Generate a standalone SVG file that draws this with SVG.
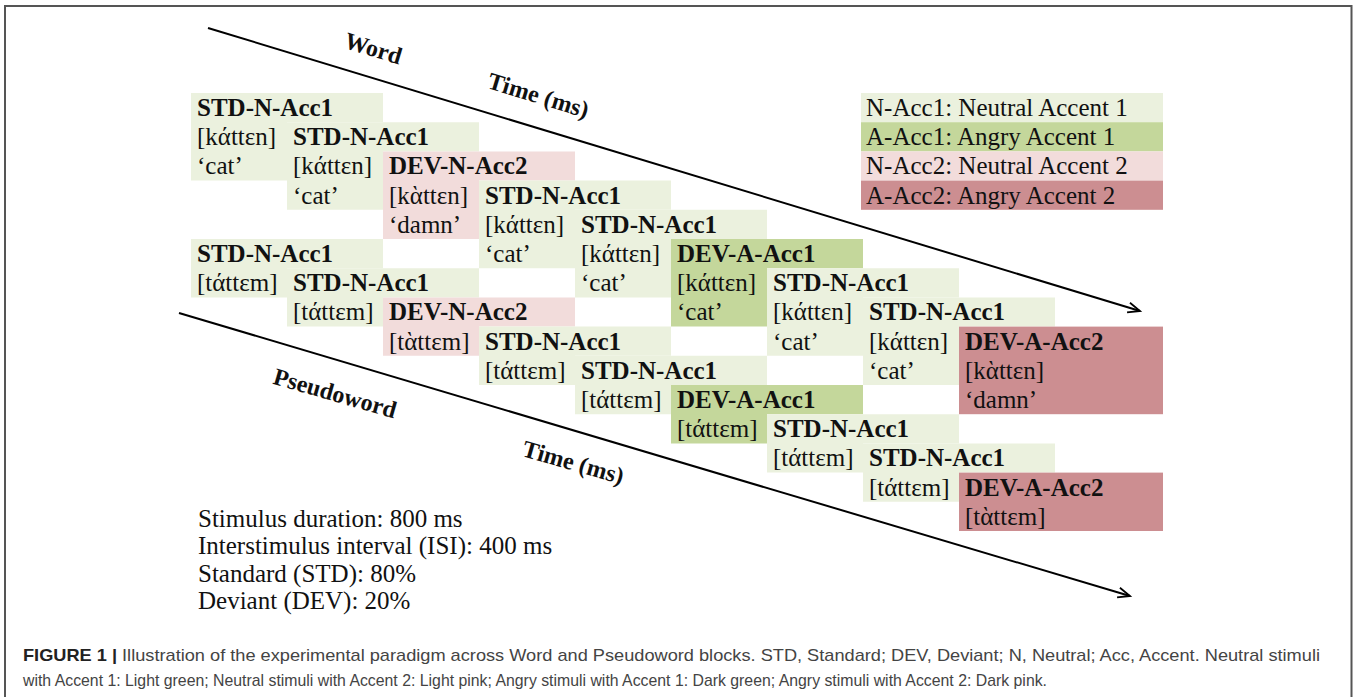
<svg xmlns="http://www.w3.org/2000/svg" width="1357" height="697" viewBox="0 0 1357 697">
<style>
.ng{fill:#ebf1de}.ag{fill:#c4d79b}.np{fill:#f2dcdb}.ap{fill:#cc8e91}
.b{font-family:"Liberation Serif","DejaVu Serif",serif;font-size:25px;font-weight:bold;fill:#111}
.r{font-family:"Liberation Serif","DejaVu Serif",serif;font-size:25px;fill:#111}
.lbl{font-family:"Liberation Serif","DejaVu Serif",serif;font-size:24px;font-weight:bold;fill:#111}
.ln{stroke:#000;stroke-width:2;fill:none}
.cap{font-family:"Liberation Sans",Arial,sans-serif;font-size:17px;fill:#444}
.capb{font-weight:bold;fill:#222}
</style>
<defs>
<marker id="arr" markerUnits="userSpaceOnUse" markerWidth="16" markerHeight="14" refX="13" refY="6" orient="auto">
<path d="M1,1 L13,6 L1,11" fill="none" stroke="#000" stroke-width="1.8"/>
</marker>
</defs>
<rect width="1357" height="697" fill="#fff"/>
<path d="M5,697 V6 H1351.5 V697" fill="none" stroke="#555" stroke-width="2"/>

<g id="connectors">
<line class="ln" x1="208" y1="28" x2="1140" y2="311" marker-end="url(#arr)"/>
<line class="ln" x1="179" y1="313" x2="1130" y2="596" marker-end="url(#arr)"/>
</g>

<g id="axis-labels">
<text class="lbl" text-anchor="middle" transform="translate(371,56) rotate(17)">Word</text>
<text class="lbl" text-anchor="middle" transform="translate(536,103) rotate(17)">Time (ms)</text>
<text class="lbl" text-anchor="middle" transform="translate(333,401) rotate(16)">Pseudoword</text>
<text class="lbl" text-anchor="middle" transform="translate(571,470) rotate(16)">Time (ms)</text>
</g>

<g id="word-1"><path class="ng" d="M191,93 h192 v29.2 h-96 v58.4 h-96 z"/><text class="b" x="197" y="116">STD-N-Acc1</text><text class="r" x="197" y="145.2">[kάttɛn]</text><text class="r" x="197" y="174.4">‘cat’</text></g>
<g id="word-2"><path class="ng" d="M287,122.2 h192 v29.2 h-96 v58.4 h-96 z"/><text class="b" x="293" y="145.2">STD-N-Acc1</text><text class="r" x="293" y="174.4">[kάttɛn]</text><text class="r" x="293" y="203.6">‘cat’</text></g>
<g id="word-3"><path class="np" d="M383,151.4 h192 v29.2 h-96 v58.4 h-96 z"/><text class="b" x="389" y="174.4">DEV-N-Acc2</text><text class="r" x="389" y="203.6">[kὰttɛn]</text><text class="r" x="389" y="232.8">‘damn’</text></g>
<g id="word-4"><path class="ng" d="M479,180.6 h192 v29.2 h-96 v58.4 h-96 z"/><text class="b" x="485" y="203.6">STD-N-Acc1</text><text class="r" x="485" y="232.8">[kάttɛn]</text><text class="r" x="485" y="262">‘cat’</text></g>
<g id="word-5"><path class="ng" d="M575,209.8 h192 v29.2 h-96 v58.4 h-96 z"/><text class="b" x="581" y="232.8">STD-N-Acc1</text><text class="r" x="581" y="262">[kάttɛn]</text><text class="r" x="581" y="291.2">‘cat’</text></g>
<g id="word-6"><path class="ag" d="M671,239 h192 v29.2 h-96 v58.4 h-96 z"/><text class="b" x="677" y="262">DEV-A-Acc1</text><text class="r" x="677" y="291.2">[kάttɛn]</text><text class="r" x="677" y="320.4">‘cat’</text></g>
<g id="word-7"><path class="ng" d="M767,268.2 h192 v29.2 h-96 v58.4 h-96 z"/><text class="b" x="773" y="291.2">STD-N-Acc1</text><text class="r" x="773" y="320.4">[kάttɛn]</text><text class="r" x="773" y="349.6">‘cat’</text></g>
<g id="word-8"><path class="ng" d="M863,297.4 h192 v29.2 h-96 v58.4 h-96 z"/><text class="b" x="869" y="320.4">STD-N-Acc1</text><text class="r" x="869" y="349.6">[kάttɛn]</text><text class="r" x="869" y="378.8">‘cat’</text></g>
<g id="word-9"><rect class="ap" x="959" y="326.6" width="204" height="87.6"/><text class="b" x="965" y="349.6">DEV-A-Acc2</text><text class="r" x="965" y="378.8">[kὰttɛn]</text><text class="r" x="965" y="408">‘damn’</text></g>

<g id="pseudo-1"><path class="ng" d="M191,239 h192 v29.2 h-96 v29.2 h-96 z"/><text class="b" x="197" y="262">STD-N-Acc1</text><text class="r" x="197" y="291.2">[tάttɛm]</text></g>
<g id="pseudo-2"><path class="ng" d="M287,268.2 h192 v29.2 h-96 v29.2 h-96 z"/><text class="b" x="293" y="291.2">STD-N-Acc1</text><text class="r" x="293" y="320.4">[tάttɛm]</text></g>
<g id="pseudo-3"><path class="np" d="M383,297.4 h192 v29.2 h-96 v29.2 h-96 z"/><text class="b" x="389" y="320.4">DEV-N-Acc2</text><text class="r" x="389" y="349.6">[tὰttɛm]</text></g>
<g id="pseudo-4"><path class="ng" d="M479,326.6 h192 v29.2 h-96 v29.2 h-96 z"/><text class="b" x="485" y="349.6">STD-N-Acc1</text><text class="r" x="485" y="378.8">[tάttɛm]</text></g>
<g id="pseudo-5"><path class="ng" d="M575,355.8 h192 v29.2 h-96 v29.2 h-96 z"/><text class="b" x="581" y="378.8">STD-N-Acc1</text><text class="r" x="581" y="408">[tάttɛm]</text></g>
<g id="pseudo-6"><path class="ag" d="M671,385 h192 v29.2 h-96 v29.2 h-96 z"/><text class="b" x="677" y="408">DEV-A-Acc1</text><text class="r" x="677" y="437.2">[tάttɛm]</text></g>
<g id="pseudo-7"><path class="ng" d="M767,414.2 h192 v29.2 h-96 v29.2 h-96 z"/><text class="b" x="773" y="437.2">STD-N-Acc1</text><text class="r" x="773" y="466.4">[tάttɛm]</text></g>
<g id="pseudo-8"><path class="ng" d="M863,443.4 h192 v29.2 h-96 v29.2 h-96 z"/><text class="b" x="869" y="466.4">STD-N-Acc1</text><text class="r" x="869" y="495.6">[tάttɛm]</text></g>
<g id="pseudo-9"><rect class="ap" x="959" y="472.6" width="204" height="58.4"/><text class="b" x="965" y="495.6">DEV-A-Acc2</text><text class="r" x="965" y="524.8">[tὰttɛm]</text></g>

<g id="legend">
<rect class="ng" x="861" y="93" width="302" height="29.2"/>
<rect class="ag" x="861" y="122.2" width="302" height="29.2"/>
<rect class="np" x="861" y="151.4" width="302" height="29.2"/>
<rect class="ap" x="861" y="180.6" width="302" height="29.2"/>
<text class="r" x="866" y="116">N-Acc1: Neutral Accent 1</text>
<text class="r" x="866" y="145.2">A-Acc1: Angry Accent 1</text>
<text class="r" x="866" y="174.4">N-Acc2: Neutral Accent 2</text>
<text class="r" x="866" y="203.6">A-Acc2: Angry Accent 2</text>
</g>

<g id="notes">
<text class="r" x="198" y="527">Stimulus duration: 800 ms</text>
<text class="r" x="198" y="554">Interstimulus interval (ISI): 400 ms</text>
<text class="r" x="198" y="582">Standard (STD): 80%</text>
<text class="r" x="198" y="609">Deviant (DEV): 20%</text>
</g>

<g id="caption">
<text class="cap" x="23" y="661" textLength="1297" lengthAdjust="spacingAndGlyphs"><tspan class="capb">FIGURE 1 |</tspan> Illustration of the experimental paradigm across Word and Pseudoword blocks. STD, Standard; DEV, Deviant; N, Neutral; Acc, Accent. Neutral stimuli</text>
<text class="cap" x="23" y="686" textLength="1024" lengthAdjust="spacingAndGlyphs">with Accent 1: Light green; Neutral stimuli with Accent 2: Light pink; Angry stimuli with Accent 1: Dark green; Angry stimuli with Accent 2: Dark pink.</text>
</g>
</svg>
